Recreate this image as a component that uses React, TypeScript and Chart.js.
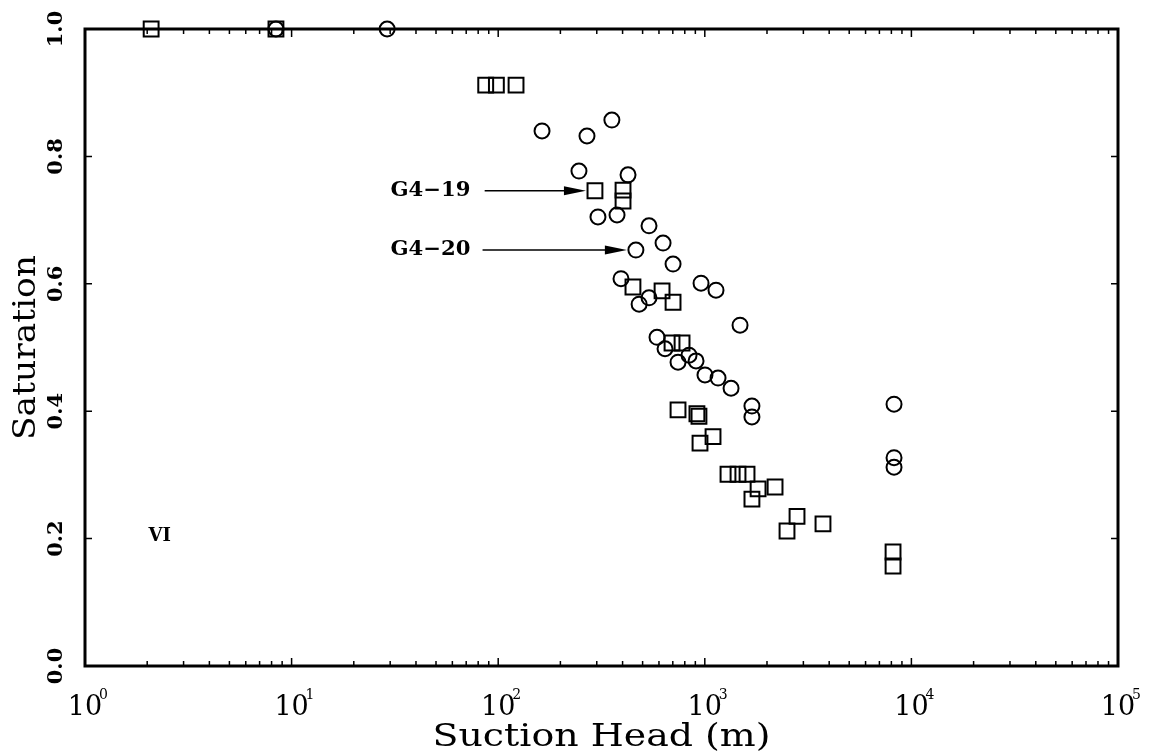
import React, { useEffect, useRef } from "react";
import { Chart, registerables } from "chart.js";

Chart.register(...registerables);

// ---- data (suction head in m, saturation) ----
const g419Head = [2.09, 8.4, 87, 98, 122, 294, 402, 402, 449, 621, 702, 694, 776, 742, 916, 937, 1096, 948, 1295, 1448, 1601, 1811, 2188, 1691, 2795, 2500, 3733, 8150, 8150];
const g419Sat = [1.0, 1.0, 0.912, 0.912, 0.912, 0.746, 0.747, 0.73, 0.595, 0.589, 0.571, 0.507, 0.507, 0.402, 0.396, 0.392, 0.36, 0.35, 0.301, 0.301, 0.301, 0.278, 0.281, 0.262, 0.235, 0.212, 0.223, 0.179, 0.157];

const g420Head = [8.4, 29, 163, 269, 355, 246, 425, 304, 376, 537, 628, 464, 702, 393, 537, 481, 959, 1133, 1481, 587, 642, 742, 839, 907, 1002, 1159, 1340, 1691, 1691, 8240, 8240, 8240];
const g420Sat = [1.0, 1.0, 0.84, 0.832, 0.857, 0.777, 0.771, 0.705, 0.708, 0.691, 0.664, 0.653, 0.631, 0.608, 0.578, 0.568, 0.601, 0.59, 0.535, 0.516, 0.498, 0.477, 0.488, 0.479, 0.457, 0.452, 0.436, 0.408, 0.391, 0.411, 0.327, 0.312];

const xTickExponents = [0, 1, 2, 3, 4, 5];
const xMinorMultipliers = [2, 3, 4, 5, 6, 7, 8, 9];
const yTickValues = [0, 0.2, 0.4, 0.6, 0.8, 1.0];
const yTickLabels = ["0.0", "0.2", "0.4", "0.6", "0.8", "1.0"];

const xTitle = "Suction Head (m)";
const yTitle = "Saturation";

// annotations: label text, label centre (head, sat), arrow start head, arrow target point
const annoLabels = ["G4−19", "G4−20"];
const annoLabelHead = [47, 47];
const annoSat = [0.746, 0.653];
const annoArrowStartHead = [86, 84];
const annoTargetHead = [294, 464];

const panelLabel = "VI";
const panelLabelHead = 2.3;
const panelLabelSat = 0.203;

const SERIF = '"DejaVu Serif", "Liberation Serif", serif';

const toPoints = (xs: number[], ys: number[]) => xs.map((x, i) => ({ x, y: ys[i] }));

// draw text horizontally stretched to a target width
function fillFitted(ctx: CanvasRenderingContext2D, text: string, x: number, y: number, targetWidth: number) {
  const w = ctx.measureText(text).width;
  const sx = targetWidth / w;
  ctx.save();
  ctx.translate(x, y);
  ctx.scale(sx, 1);
  ctx.fillText(text, 0, 0);
  ctx.restore();
}

const framePlugin = {
  id: "framePlugin",
  afterDatasetsDraw(chart: any) {
    const ctx = chart.ctx as CanvasRenderingContext2D;
    const xs = chart.scales.x;
    const ys = chart.scales.y;
    const { left, right, top, bottom } = chart.chartArea;
    ctx.save();
    ctx.strokeStyle = "#000";
    ctx.fillStyle = "#000";

    // frame
    ctx.lineWidth = 3;
    ctx.strokeRect(left, top, right - left, bottom - top);

    // x ticks (inside, bottom and top)
    ctx.lineWidth = 1.5;
    xTickExponents.forEach((e) => {
      const mults = [1, ...xMinorMultipliers];
      mults.forEach((m) => {
        const v = m * Math.pow(10, e);
        if (v < xs.min || v > xs.max) return;
        const px = xs.getPixelForValue(v);
        const len = m === 1 ? 8 : 5;
        ctx.beginPath();
        ctx.moveTo(px, bottom);
        ctx.lineTo(px, bottom - len);
        ctx.moveTo(px, top);
        ctx.lineTo(px, top + len);
        ctx.stroke();
      });
    });
    // y ticks (inside, left and right)
    yTickValues.forEach((v) => {
      const py = ys.getPixelForValue(v);
      ctx.beginPath();
      ctx.moveTo(left, py);
      ctx.lineTo(left + 7, py);
      ctx.moveTo(right, py);
      ctx.lineTo(right - 7, py);
      ctx.stroke();
    });

    // x tick labels 10^n
    xTickExponents.forEach((e) => {
      const px = xs.getPixelForValue(Math.pow(10, e));
      ctx.font = `27px ${SERIF}`;
      ctx.textAlign = "center";
      ctx.textBaseline = "alphabetic";
      ctx.fillText("10", px, bottom + 49);
      ctx.font = `14px ${SERIF}`;
      ctx.textAlign = "left";
      ctx.fillText(String(e), px + 14, bottom + 33);
    });

    // y tick labels (rotated)
    yTickValues.forEach((v, i) => {
      const py = ys.getPixelForValue(v);
      ctx.save();
      ctx.translate(left - 28, py);
      ctx.rotate(-Math.PI / 2);
      ctx.font = `bold 21px ${SERIF}`;
      ctx.textAlign = "center";
      ctx.textBaseline = "middle";
      ctx.fillText(yTickLabels[i], 0, 0);
      ctx.restore();
    });

    // axis titles
    ctx.font = `31px ${SERIF}`;
    ctx.textAlign = "center";
    ctx.textBaseline = "middle";
    fillFitted(ctx, xTitle, (left + right) / 2, bottom + 72, 338);
    ctx.save();
    ctx.translate(27, (top + bottom) / 2);
    ctx.rotate(-Math.PI / 2);
    fillFitted(ctx, yTitle, 0, 0, 185);
    ctx.restore();

    // annotations
    annoLabels.forEach((lab, i) => {
      const py = ys.getPixelForValue(annoSat[i]);
      const lx = xs.getPixelForValue(annoLabelHead[i]);
      ctx.font = `bold 20px ${SERIF}`;
      ctx.textAlign = "center";
      ctx.textBaseline = "middle";
      fillFitted(ctx, lab, lx, py, 80);
      const x0 = xs.getPixelForValue(annoArrowStartHead[i]);
      const x1 = xs.getPixelForValue(annoTargetHead[i]) - 9;
      ctx.lineWidth = 1.5;
      ctx.beginPath();
      ctx.moveTo(x0, py);
      ctx.lineTo(x1 - 10, py);
      ctx.stroke();
      ctx.beginPath();
      ctx.moveTo(x1, py);
      ctx.lineTo(x1 - 22, py - 4.5);
      ctx.lineTo(x1 - 22, py + 4.5);
      ctx.closePath();
      ctx.fill();
    });

    // panel label
    ctx.font = `bold 18px ${SERIF}`;
    ctx.textAlign = "center";
    ctx.textBaseline = "middle";
    ctx.fillText(panelLabel, xs.getPixelForValue(panelLabelHead), ys.getPixelForValue(panelLabelSat));

    ctx.restore();
  },
};

export default function App() {
  const canvasRef = useRef<HTMLCanvasElement | null>(null);

  useEffect(() => {
    const canvas = canvasRef.current;
    if (!canvas) return;
    const chart = new Chart(canvas, {
      type: "scatter",
      data: {
        datasets: [
          {
            label: "G4-19",
            data: toPoints(g419Head, g419Sat),
            pointStyle: "rect",
            pointRadius: 10.5,
            pointBorderWidth: 2,
            pointBorderColor: "#000",
            pointBackgroundColor: "rgba(0,0,0,0)",
            clip: false,
          },
          {
            label: "G4-20",
            data: toPoints(g420Head, g420Sat),
            pointStyle: "circle",
            pointRadius: 7.5,
            pointBorderWidth: 2,
            pointBorderColor: "#000",
            pointBackgroundColor: "rgba(0,0,0,0)",
            clip: false,
          },
        ],
      },
      options: {
        responsive: false,
        animation: false,
        devicePixelRatio: 1,
        layout: { padding: { left: 85, right: 32, top: 29, bottom: 89 } },
        plugins: { legend: { display: false }, tooltip: { enabled: false } },
        scales: {
          x: { type: "logarithmic", min: 1, max: 100000, display: false },
          y: { type: "linear", min: 0, max: 1, display: false },
        },
      },
      plugins: [framePlugin],
    });
    return () => chart.destroy();
  }, []);

  return (
    <div style={{ position: "fixed", left: 0, top: 0, width: 1150, height: 755, background: "#fff" }}>
      <canvas ref={canvasRef} width={1150} height={755} style={{ display: "block" }} />
    </div>
  );
}
